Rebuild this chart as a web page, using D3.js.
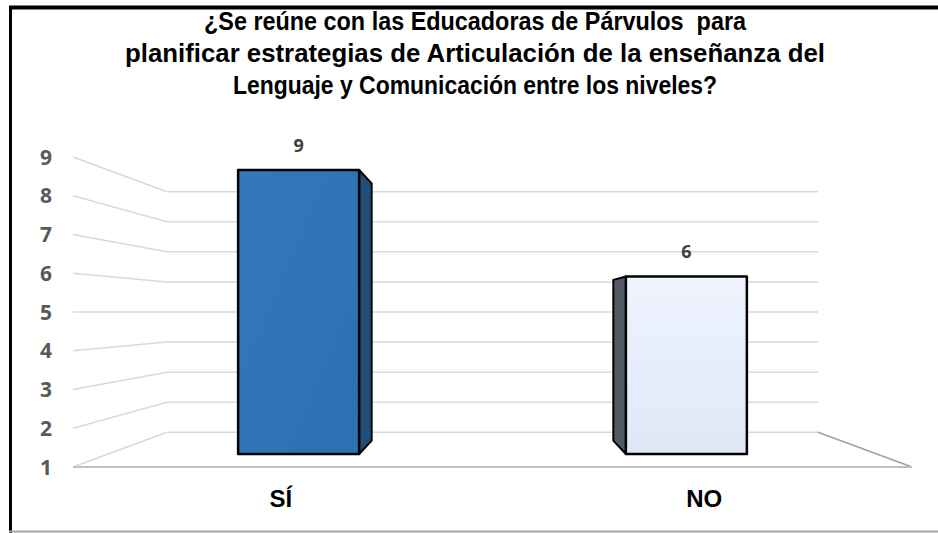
<!DOCTYPE html>
<html>
<head>
<meta charset="utf-8">
<script src="https://cdn.jsdelivr.net/npm/d3@7"></script>
<style>
  body { margin: 0; background: #fff; }
  text { white-space: pre; }
</style>
</head>
<body>
<div id="chart"></div>
<script>
// ---- data ----
var categories = ["SÍ", "NO"];
var values = [9, 6];
var yTicks = [1, 2, 3, 4, 5, 6, 7, 8, 9];
var titleLines = [
  "¿Se reúne con las Educadoras de Párvulos  para",
  "planificar estrategias de Articulación de la enseñanza del",
  "Lenguaje y Comunicación entre los niveles?"
];

// ---- svg ----
var svgWidth = 938, svgHeight = 533;
var svg = d3.select("#chart").append("svg")
  .attr("width", svgWidth)
  .attr("height", svgHeight);

// frame
svg.append("rect").attr("x", 0).attr("y", 0).attr("width", svgWidth).attr("height", svgHeight).attr("fill", "#fff");
svg.append("line").attr("x1", 9).attr("x2", svgWidth).attr("y1", 7.5).attr("y2", 7.5)
  .attr("stroke", "#000").attr("stroke-width", 4);
svg.append("line").attr("x1", 10.5).attr("x2", 10.5).attr("y1", 6).attr("y2", svgHeight)
  .attr("stroke", "#000").attr("stroke-width", 3);
svg.append("line").attr("x1", 9).attr("x2", svgWidth).attr("y1", 531.5).attr("y2", 531.5)
  .attr("stroke", "#a6a6a6").attr("stroke-width", 2);

// ---- title (narrow bold face, squeezed to the widths seen) ----
var titleWidths = [542, 700, 484];
svg.append("g").selectAll("text")
  .data(titleLines)
  .enter().append("text")
  .attr("x", 475)
  .attr("y", function(d, i) { return 30 + i * 32; })
  .attr("text-anchor", "middle")
  .attr("font-family", "Liberation Sans, Arial, sans-serif")
  .attr("font-weight", "bold")
  .attr("font-size", "25px")
  .attr("textLength", function(d, i) { return titleWidths[i]; })
  .attr("lengthAdjust", "spacingAndGlyphs")
  .attr("fill", "#000")
  .text(function(d) { return d; });

// ---- 3d projection ----
var cx = 492.5, cy = 312;           // vanishing centre
var halfW = 419.5;                  // half width of front plane
var xScale = d3.scaleBand()
  .domain(categories)
  .range([-halfW, halfW])
  .paddingInner(0.688)
  .paddingOuter(0.335);
var yScale = d3.scaleLinear().domain([1, 9]).range([155, -155]);
var depth = d3.scaleLinear().domain([0, 1]).range([1, 0.776]);   // 0 = front, 1 = back wall

function proj(X, v, t) {
  var s = depth(t);
  return [cx + X * s, cy + yScale(v) * s];
}

var grid = svg.append("g");

// left wall lines + back wall gridlines
yTicks.forEach(function(v) {
  var f = proj(-halfW, v, 0), b = proj(-halfW, v, 1), r = proj(halfW, v, 1);
  grid.append("line")
    .attr("x1", f[0]).attr("y1", f[1]).attr("x2", b[0]).attr("y2", b[1])
    .attr("stroke", "#d9d9d9").attr("stroke-width", 1.5);
  grid.append("line")
    .attr("x1", b[0]).attr("y1", b[1]).attr("x2", r[0]).attr("y2", r[1])
    .attr("stroke", "#d9d9d9").attr("stroke-width", 1.5);
});

// floor edges
var fl = proj(-halfW, 1, 0), fr = proj(halfW, 1, 0), br = proj(halfW, 1, 1);
grid.append("line")
  .attr("x1", br[0]).attr("y1", br[1]).attr("x2", fr[0]).attr("y2", fr[1])
  .attr("stroke", "#a0a0a0").attr("stroke-width", 1.5);
grid.append("line")
  .attr("x1", fl[0]).attr("y1", fl[1]).attr("x2", fr[0]).attr("y2", fr[1])
  .attr("stroke", "#c0c0c0").attr("stroke-width", 2);

// y tick labels on the front plane
svg.append("g").selectAll("text")
  .data(yTicks)
  .enter().append("text")
  .attr("x", 52)
  .attr("y", function(d) { return proj(-halfW, d, 0)[1]; })
  .attr("dy", "0.36em")
  .attr("text-anchor", "end")
  .attr("font-family", "Open Sans, sans-serif")
  .attr("font-weight", "bold")
  .attr("font-size", "21px")
  .attr("fill", "#595959")
  .text(function(d) { return d; });

// ---- bars ----
var defs = svg.append("defs");
var g1 = defs.append("linearGradient").attr("id", "gBlue").attr("x1", 0).attr("y1", 0).attr("x2", 1).attr("y2", 1);
g1.append("stop").attr("offset", "0%").attr("stop-color", "#3278bb");
g1.append("stop").attr("offset", "100%").attr("stop-color", "#2c71b1");
var g2 = defs.append("linearGradient").attr("id", "gLight").attr("x1", 0).attr("y1", 0).attr("x2", 0).attr("y2", 1);
g2.append("stop").attr("offset", "0%").attr("stop-color", "#eef3fd");
g2.append("stop").attr("offset", "100%").attr("stop-color", "#dfe7f7");

var frontFill = ["url(#gBlue)", "url(#gLight)"];
var sideFill = ["#1f4e79", "#545a64"];
var tFront = 0.375, tBack = 0.76;

var bars = svg.append("g");
categories.forEach(function(c, i) {
  var x0 = xScale(c), x1 = x0 + xScale.bandwidth();
  var v = values[i];
  // visible side face: the one facing the centre
  var sx = (x1 < 0) ? x1 : x0;
  var side = [proj(sx, v, tFront), proj(sx, v, tBack), proj(sx, 1, tBack), proj(sx, 1, tFront)];
  bars.append("polygon")
    .attr("points", side.map(function(p) { return p.join(","); }).join(" "))
    .attr("fill", sideFill[i])
    .attr("stroke", "#000").attr("stroke-width", 2).attr("stroke-linejoin", "round");
  var front = [proj(x0, v, tFront), proj(x1, v, tFront), proj(x1, 1, tFront), proj(x0, 1, tFront)];
  bars.append("polygon")
    .attr("points", front.map(function(p) { return p.join(","); }).join(" "))
    .attr("fill", frontFill[i])
    .attr("stroke", "#000").attr("stroke-width", 2.5).attr("stroke-linejoin", "round");

  // data label
  var top = proj((x0 + x1) / 2, v, tFront);
  svg.append("text")
    .attr("x", top[0])
    .attr("y", top[1] - 25)
    .attr("dy", "0.36em")
    .attr("text-anchor", "middle")
    .attr("font-family", "Open Sans, sans-serif")
    .attr("font-weight", "bold")
    .attr("font-size", "18px")
    .attr("fill", "#404040")
    .text(v);

  // category label on the front of the floor
  var base = proj(xScale(c) + xScale.bandwidth() / 2, 1, 0);
  svg.append("text")
    .attr("x", base[0])
    .attr("y", 498)
    .attr("dy", "0.36em")
    .attr("text-anchor", "middle")
    .attr("font-family", "Liberation Sans, Arial, sans-serif")
    .attr("font-weight", "bold")
    .attr("font-size", "24px")
    .attr("fill", "#000")
    .text(c);
});
</script>
</body>
</html>
